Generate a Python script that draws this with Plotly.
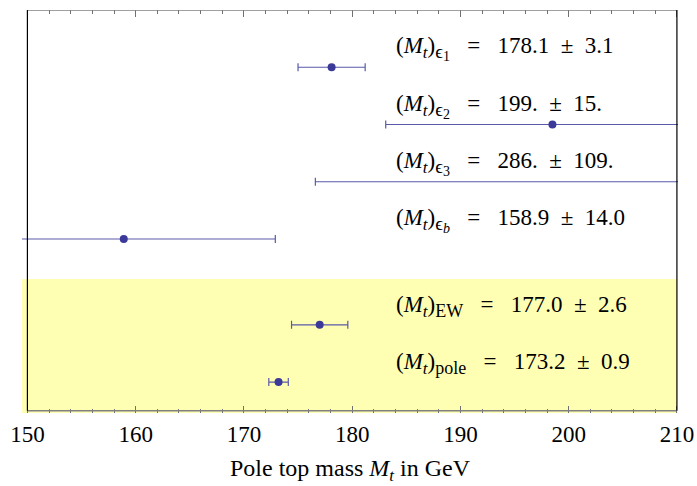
import plotly.graph_objects as go

# ---- data ----
names = ["ε1", "ε2", "ε3", "εb", "EW", "pole"]
centers = [178.1, 198.5, 286.0, 158.9, 177.0, 173.2]
errors = [3.1, 15.4, 109.4, 14.0, 2.6, 0.9]
value_text = ["178.1", "199.", "286.", "158.9", "177.0", "173.2"]
error_text = ["3.1", "15.", "109.", "14.0", "2.6", "0.9"]
sub_main = ["ϵ", "ϵ", "ϵ", "ϵ", "EW", "pole"]
sub_inner = ["1", "2", "3", "<i>b</i>", "", ""]
rows = [6.5, 5.5, 4.5, 3.5, 2.0, 1.0]
x_ticks = [150, 160, 170, 180, 190, 200, 210]
x_minor = [v for v in range(150, 211, 2) if v % 10 != 0]
x_title = "Pole top mass <i>M<sub><span style='font-size:17px'>t</span></sub></i> in GeV"

FONT = "Liberation Serif, Times New Roman, serif"
NB = "\u00a0"


def label(sm, si, v, e):
    if si:
        inner = f"<sub><span style='font-size:14px'>{si}</span></sub>"
        main = f"<span style='font-size:19px'>{sm}</span>"
    else:
        inner = ""
        main = f"<span style='font-size:18px'>{sm}</span>"
    sub = f"<sub>{main}{inner}</sub>"
    return (f"(<i>M<sub><span style='font-size:17px'>t</span></sub></i>){sub}"
            f"{NB * 3}={NB * 3}{v}{NB * 2}±{NB * 2}{e}")


fig = go.Figure()
fig.add_trace(go.Scatter(
    x=centers, y=rows, mode="markers",
    marker=dict(color="#3b3a98", size=8),
    error_x=dict(type="data", array=errors, color="#5a5aaa", thickness=1.2, width=4),
    cliponaxis=True, showlegend=False, hoverinfo="skip",
))

for r, sm, si, v, e in zip(rows, sub_main, sub_inner, value_text, error_text):
    fig.add_annotation(x=183.9, y=r + 0.32, text=label(sm, si, v, e), showarrow=False,
                       xanchor="left", yanchor="middle",
                       font=dict(family=FONT, size=23, color="black"))

# axis title as paper annotation (keeps plot area fixed)
fig.add_annotation(x=0.5, y=-0.142, xref="paper", yref="paper", text=x_title,
                   showarrow=False, xanchor="center", yanchor="middle",
                   font=dict(family=FONT, size=24, color="black"))

# yellow band
fig.add_shape(type="rect", xref="paper", x0=0, x1=1, yref="y", y0=0.46, y1=2.8,
              fillcolor="#ffffb4", line=dict(width=0), layer="below")
# frame
fig.add_shape(type="line", x0=150, x1=210, y0=7.5, y1=7.5, line=dict(color="#808080", width=1.5))
fig.add_shape(type="line", x0=150, x1=210, y0=0.5, y1=0.5, line=dict(color="#808080", width=1.5))
fig.add_shape(type="line", x0=150, x1=150, y0=0.5, y1=7.5, line=dict(color="black", width=1.2))
fig.add_shape(type="line", x0=210, x1=210, y0=0.5, y1=7.5, line=dict(color="black", width=1.2))

fig.update_layout(
    width=697, height=486,
    margin=dict(l=22, r=19, t=10, b=73),
    paper_bgcolor="white", plot_bgcolor="rgba(0,0,0,0)",
    font=dict(family=FONT, color="black"),
    xaxis=dict(range=[149.5, 210.1], showgrid=False, zeroline=False, automargin=False,
               showline=True, linecolor="rgba(0,0,0,0)",
               tickmode="array", tickvals=x_ticks, ticktext=[str(t) for t in x_ticks],
               ticks="inside", ticklen=7, tickcolor="#707070", tickwidth=1.2,
               mirror="ticks", tickfont=dict(family=FONT, size=23, color="black"),
               minor=dict(tickmode="array", tickvals=x_minor, ticks="inside", ticklen=4,
                          tickcolor="#707070", tickwidth=1.2, showgrid=False)),
    yaxis=dict(range=[0.46, 7.5], showgrid=False, zeroline=False, showline=False,
               showticklabels=False, ticks="", automargin=False),
)

fig.write_html("out.html")
